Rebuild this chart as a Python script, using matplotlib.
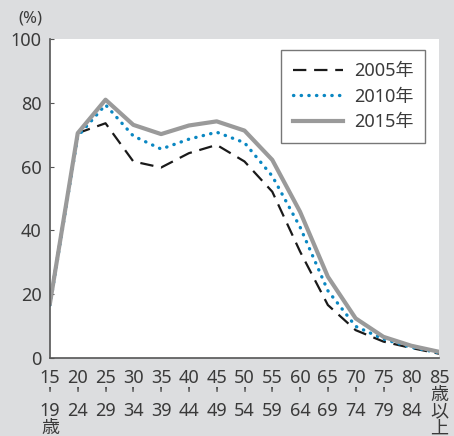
import matplotlib.pyplot as plt

plt.rcParams['font.family'] = ['Noto Sans', 'Noto Sans CJK JP', 'DejaVu Sans']

# age groups (lower / upper bound of each class)
age_low = ["15", "20", "25", "30", "35", "40", "45", "50", "55", "60", "65", "70", "75", "80", "85"]
age_high = ["19\n歳", "24", "29", "34", "39", "44", "49", "54", "59", "64", "69", "74", "79", "84", ""]

rate_2005 = [18, 70.5, 73.6, 61.6, 59.7, 64.2, 66.8, 61.6, 52.1, 33.3, 16.5, 8.6, 5.0, 3.0, 1.2]
rate_2010 = [16.5, 69.5, 79.4, 69.6, 65.5, 68.6, 70.8, 67.5, 57.0, 41.0, 21.0, 9.8, 5.8, 3.2, 1.5]
rate_2015 = [17.0, 70.5, 81.0, 73.1, 70.2, 72.9, 74.2, 71.3, 62.1, 45.8, 25.4, 12.3, 6.5, 3.7, 1.8]

yticks = [0, 20, 40, 60, 80, 100]

bg = "#dcdddf"
txt = "#3a3a3a"

fig = plt.figure(figsize=(4.54, 4.36), dpi=100, facecolor=bg)
ax = fig.add_axes([0.110, 0.180, 0.857, 0.730])
ax.set_facecolor("white")

x = list(range(len(age_low)))
ax.plot(x, rate_2005, color="#1a1a1a", lw=1.6, dashes=(6, 3.5), label="2005年")
ax.plot(x, rate_2010, color="#0a87c2", lw=2.4, linestyle=(0, (0.1, 2.2)),
        dash_capstyle="round", label="2010年")
ax.plot(x, rate_2015, color="#9a9a9a", lw=3.0, label="2015年")

ax.set_xlim(0, len(age_low) - 1)
ax.set_ylim(0, 100)
ax.set_yticks(yticks)
ax.set_yticklabels([str(v) for v in yticks], fontsize=13, color=txt)
ax.tick_params(axis="y", direction="in", length=3, color="#555555", pad=6)

# "15 | 19 歳" style labels, bar drawn as a short straight apostrophe
labels = []
for lo, hi in zip(age_low, age_high):
    if lo == "85":
        labels.append("85\n歳\n以\n上")
    else:
        labels.append(lo + "\n'\n" + hi)
ax.set_xticks(x)
ax.set_xticklabels(labels, fontsize=13, color=txt, linespacing=0.92, va="top")
ax.tick_params(axis="x", length=0, pad=8)

for side in ["top", "right"]:
    ax.spines[side].set_visible(False)
for side in ["left", "bottom"]:
    ax.spines[side].set_color("#555555")
    ax.spines[side].set_linewidth(1.2)

fig.text(0.066, 0.958, "(%)", fontsize=12, color=txt, ha="center", va="center")

leg = ax.legend(loc="upper right", bbox_to_anchor=(0.965, 0.965), fontsize=13,
                frameon=True, fancybox=False, handlelength=2.8, handletextpad=0.6,
                borderpad=0.65, labelspacing=0.42, borderaxespad=0)
leg.get_frame().set_edgecolor("#555555")
leg.get_frame().set_linewidth(1.0)
for t in leg.get_texts():
    t.set_color(txt)

fig.savefig("out.png", dpi=100, facecolor=bg)
